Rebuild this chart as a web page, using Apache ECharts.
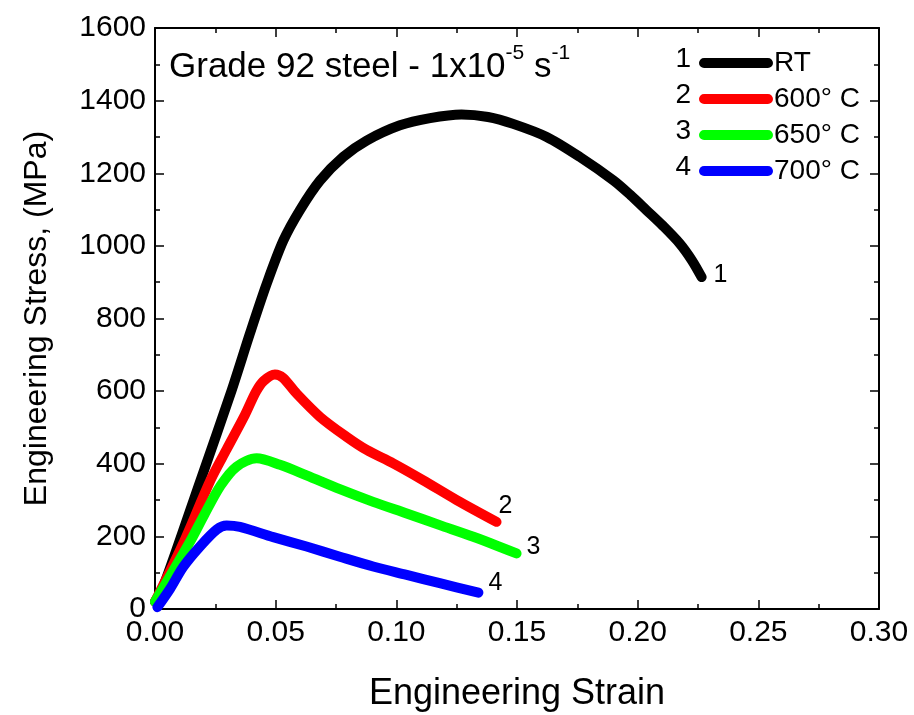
<!DOCTYPE html>
<html>
<head>
<meta charset="utf-8">
<script src="https://cdn.jsdelivr.net/npm/echarts@6/dist/echarts.min.js"></script>
<style>
  html, body { margin: 0; padding: 0; background: #fff; }
  #chart { width: 914px; height: 715px; }
</style>
</head>
<body>
<div id="chart"></div>
<script>
// Tensile curves of Grade 92 steel at a strain rate of 1x10^-5 s^-1
var seriesNames = ['RT', '600° C', '650° C', '700° C'];
var curveTags = ['1', '2', '3', '4'];
var colors = ['#000000', '#ff0000', '#00ff00', '#0000ff'];

var strainRT = [0.000, 0.0034, 0.0189, 0.0318, 0.0394, 0.0463, 0.0532, 0.060, 0.0684, 0.078, 0.0877, 0.1015, 0.114, 0.127, 0.138, 0.1484, 0.1623, 0.176, 0.190, 0.197, 0.2037, 0.2105, 0.2175, 0.2225, 0.2265];
var stressRT = [20, 61, 355, 603, 760, 896, 1015, 1098, 1180, 1245, 1290, 1332, 1352, 1362, 1355, 1336, 1300, 1245, 1180, 1140, 1098, 1055, 1006, 960, 914];

var strain600 = [0.000, 0.012, 0.023, 0.0297, 0.0373, 0.0418, 0.045, 0.0497, 0.053, 0.0587, 0.0684, 0.0794, 0.0877, 0.0987, 0.111, 0.125, 0.1415];
var stress600 = [20, 185, 355, 440, 535, 598, 628, 646, 637, 593, 529, 474, 438, 401, 355, 300, 240];

var strain650 = [0.000, 0.0145, 0.0203, 0.0272, 0.0338, 0.0421, 0.0518, 0.0628, 0.0766, 0.0904, 0.1043, 0.118, 0.1319, 0.1498];
var stress650 = [20, 185, 258, 340, 392, 415, 397, 368, 330, 295, 263, 231, 199, 153];

var strain700 = [0.001, 0.0062, 0.0117, 0.0186, 0.0256, 0.0297, 0.0352, 0.049, 0.0628, 0.0766, 0.0904, 0.1043, 0.118, 0.134];
var stress700 = [5, 55, 116, 172, 219, 230, 226, 198, 172, 144, 117, 94, 71, 45];

var strainTicks = { min: 0, max: 0.30, interval: 0.05 };
var stressTicks = { min: 0, max: 1600, interval: 200 };

var strains = [strainRT, strain600, strain650, strain700];
var stresses = [stressRT, stress600, stress650, stress700];
var endOffsets = [[4, -2], [-6, -16], [2, -6], [2, -10]];

var FONT = '"Liberation Sans", Arial, sans-serif';

function axisCommon(showLabels, fmt) {
  return {
    axisLine: { show: true, onZero: false, lineStyle: { color: '#000', width: 2 } },
    axisTick: { show: true, inside: true, length: 9, lineStyle: { color: '#000', width: 1.5 } },
    minorTick: { show: true, splitNumber: 2, length: 5, lineStyle: { color: '#000', width: 1.5 } },
    splitLine: { show: false },
    axisLabel: showLabels
      ? { show: true, color: '#000', fontFamily: FONT, fontSize: 30, margin: 9, formatter: fmt }
      : { show: false }
  };
}

var xFmt = function (v) { return v.toFixed(2); };
var yFmt = function (v) { return String(v); };

var series = strains.map(function (xs, k) {
  return {
    name: seriesNames[k],
    type: 'line',
    xAxisIndex: 0,
    yAxisIndex: 0,
    smooth: 0.3,
    showSymbol: false,
    symbol: 'none',
    color: colors[k],
    lineStyle: { width: 10, color: colors[k], cap: 'round', join: 'round' },
    data: xs.map(function (x, i) { return [x, stresses[k][i]]; }),
    endLabel: {
      show: true,
      formatter: curveTags[k],
      color: '#000',
      fontFamily: FONT,
      fontSize: 25,
      offset: endOffsets[k]
    },
    z: 2 + k
  };
});

var legendIcon = 'path://M5,0 L68,0 A5,5 0 0 1 68,10 L5,10 A5,5 0 0 1 5,0 Z';

var option = {
  backgroundColor: '#fff',
  animation: false,
  title: {
    left: 164,
    top: 38,
    text: '{a|Grade 92 steel - 1x10}{s|-5}{a| s}{s|-1}',
    textStyle: {
      rich: {
        a: { fontFamily: FONT, fontSize: 35, fontWeight: 'normal', color: '#000', lineHeight: 42, verticalAlign: 'bottom' },
        s: { fontFamily: FONT, fontSize: 21, fontWeight: 'normal', color: '#000', lineHeight: 42, verticalAlign: 'top' }
      }
    }
  },
  legend: {
    orient: 'vertical',
    left: 694,
    top: 44,
    itemWidth: 74,
    itemHeight: 11,
    itemGap: 8,
    icon: legendIcon,
    data: seriesNames,
    textStyle: { fontFamily: FONT, fontSize: 28, color: '#000', lineHeight: 28, padding: [0, 0, 0, -4] }
  },
  graphic: curveTags.map(function (t, i) {
    return {
      type: 'text',
      x: 691,
      y: 59 + i * 36,
      style: { text: t, font: '28px ' + FONT, fill: '#000', align: 'right', verticalAlign: 'middle' }
    };
  }),
  grid: { left: 155, right: 35, top: 28, bottom: 106, containLabel: false, outerBoundsMode: 'none' },
  xAxis: [
    Object.assign({
      type: 'value', position: 'bottom',
      min: strainTicks.min, max: strainTicks.max, interval: strainTicks.interval,
      name: 'Engineering Strain', nameLocation: 'middle', nameGap: 67,
      nameTextStyle: { fontFamily: FONT, fontSize: 36, color: '#000' }
    }, axisCommon(true, xFmt)),
    Object.assign({
      type: 'value', position: 'top',
      min: strainTicks.min, max: strainTicks.max, interval: strainTicks.interval
    }, axisCommon(false))
  ],
  yAxis: [
    Object.assign({
      type: 'value', position: 'left',
      min: stressTicks.min, max: stressTicks.max, interval: stressTicks.interval,
      name: 'Engineering Stress, (MPa)', nameLocation: 'middle', nameGap: 102,
      nameTextStyle: { fontFamily: FONT, fontSize: 32, color: '#000' }
    }, axisCommon(true, yFmt)),
    Object.assign({
      type: 'value', position: 'right',
      min: stressTicks.min, max: stressTicks.max, interval: stressTicks.interval
    }, axisCommon(false))
  ],
  series: series
};

var chart = echarts.init(document.getElementById('chart'), null, { renderer: 'canvas' });
chart.setOption(option);
</script>
</body>
</html>
